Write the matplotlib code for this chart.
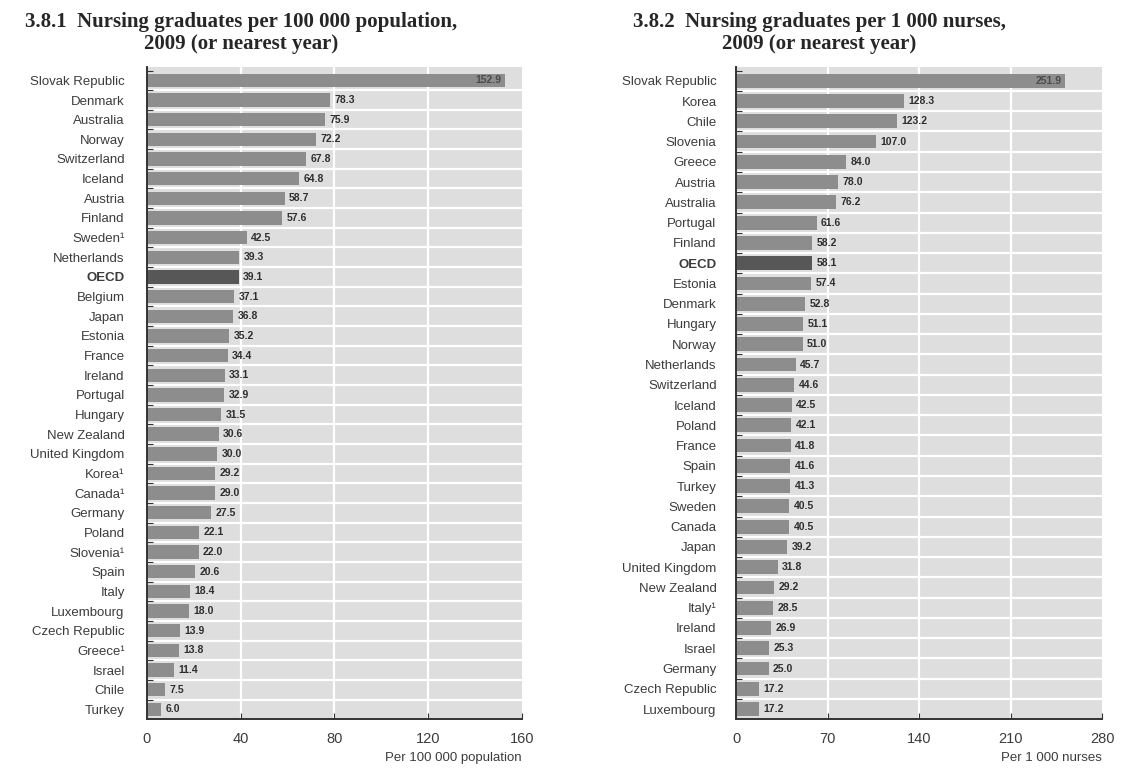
import matplotlib.pyplot as plt
import numpy as np

# -------------------- Data --------------------
countries_pop = ["Slovak Republic", "Denmark", "Australia", "Norway", "Switzerland",
                 "Iceland", "Austria", "Finland", "Sweden¹", "Netherlands", "OECD",
                 "Belgium", "Japan", "Estonia", "France", "Ireland", "Portugal",
                 "Hungary", "New Zealand", "United Kingdom", "Korea¹", "Canada¹",
                 "Germany", "Poland", "Slovenia¹", "Spain", "Italy", "Luxembourg",
                 "Czech Republic", "Greece¹", "Israel", "Chile", "Turkey"]
values_pop = [152.9, 78.3, 75.9, 72.2, 67.8, 64.8, 58.7, 57.6, 42.5, 39.3, 39.1,
              37.1, 36.8, 35.2, 34.4, 33.1, 32.9, 31.5, 30.6, 30.0, 29.2, 29.0,
              27.5, 22.1, 22.0, 20.6, 18.4, 18.0, 13.9, 13.8, 11.4, 7.5, 6.0]

countries_nurses = ["Slovak Republic", "Korea", "Chile", "Slovenia", "Greece", "Austria",
                    "Australia", "Portugal", "Finland", "OECD", "Estonia", "Denmark",
                    "Hungary", "Norway", "Netherlands", "Switzerland", "Iceland",
                    "Poland", "France", "Spain", "Turkey", "Sweden", "Canada", "Japan",
                    "United Kingdom", "New Zealand", "Italy¹", "Ireland", "Israel",
                    "Germany", "Czech Republic", "Luxembourg"]
values_nurses = [251.9, 128.3, 123.2, 107.0, 84.0, 78.0, 76.2, 61.6, 58.2, 58.1, 57.4,
                 52.8, 51.1, 51.0, 45.7, 44.6, 42.5, 42.1, 41.8, 41.6, 41.3, 40.5,
                 40.5, 39.2, 31.8, 29.2, 28.5, 26.9, 25.3, 25.0, 17.2, 17.2]

ticks_pop = [0, 40, 80, 120, 160]
ticks_nurses = [0, 70, 140, 210, 280]

# -------------------- Style --------------------
BAR = "#8d8d8d"
BAR_OECD = "#575757"
BG = "#dedede"
TXT = "#3c3c3c"
SANS = ["Liberation Sans", "DejaVu Sans"]

fig = plt.figure(figsize=(11.21, 7.70), dpi=100)
fig.patch.set_facecolor("white")


def draw_panel(ax, names, vals, ticks, xlabel, pad):
    n = len(names)
    y = np.arange(n)
    colors = [BAR_OECD if c == "OECD" else BAR for c in names]

    ax.set_facecolor(BG)
    # white separators between rows and at x ticks
    for b in np.arange(n - 1) + 0.5:
        ax.axhline(b, color="white", lw=1.6, zorder=1)
    for t in ticks[1:-1]:
        ax.axvline(t, color="white", lw=1.6, zorder=1)

    ax.barh(y, vals, height=0.68, color=colors, zorder=2)

    xmax = ticks[-1]
    for i, v in enumerate(vals):
        if v > 0.85 * xmax:
            ax.text(v - xmax * 0.01, i, f"{v:.1f}", ha="right", va="center",
                    fontsize=7.5, fontweight="bold", color="#4a4a4a", zorder=3,
                    family=SANS)
        else:
            ax.text(v + xmax * 0.012, i, f"{v:.1f}", ha="left", va="center",
                    fontsize=7.5, fontweight="bold", color="#2e2e2e", zorder=3,
                    family=SANS)

    ax.set_xlim(0, xmax)
    ax.set_ylim(n - 0.5, -0.68)
    ax.set_yticks(y)
    ax.set_yticklabels(names, family=SANS, fontsize=9.5, color=TXT)
    for lab in ax.get_yticklabels():
        if lab.get_text() == "OECD":
            lab.set_fontweight("bold")
    ax.tick_params(axis="y", length=0, pad=pad)
    ax.set_yticks(np.arange(n) - 0.5, minor=True)
    ax.tick_params(axis="y", which="minor", direction="in", length=4,
                   color="#333333", width=0.8)

    ax.set_xticks(ticks)
    ax.set_xticklabels([str(t) for t in ticks], fontsize=10.5, color=TXT,
                       family=SANS)
    ax.tick_params(axis="x", direction="in", length=4, color="#333333", pad=9)

    for side in ["top", "right"]:
        ax.spines[side].set_visible(False)
    for side in ["left", "bottom"]:
        ax.spines[side].set_color("#333333")
        ax.spines[side].set_linewidth(1.4)

    ax.text(1.0, -0.05, xlabel, transform=ax.transAxes, ha="right", va="top",
            fontsize=9.5, color=TXT, family=SANS)


ax1 = fig.add_axes([0.1311, 0.066, 0.3345, 0.847])
draw_panel(ax1, countries_pop, values_pop, ticks_pop, "Per 100 000 population", 16)

ax2 = fig.add_axes([0.6566, 0.066, 0.3265, 0.847])
draw_panel(ax2, countries_nurses, values_nurses, ticks_nurses, "Per 1 000 nurses", 14)

title_kw = dict(ha="center", va="top", fontsize=15, fontweight="bold",
                color="#262626", family=["Liberation Serif", "DejaVu Serif"],
                linespacing=1.15)
fig.text(0.215, 0.985, "3.8.1  Nursing graduates per 100 000 population,\n"
         "2009 (or nearest year)", **title_kw)
fig.text(0.731, 0.985, "3.8.2  Nursing graduates per 1 000 nurses,\n"
         "2009 (or nearest year)", **title_kw)

fig.savefig("out.png", dpi=100)
plt.close(fig)
